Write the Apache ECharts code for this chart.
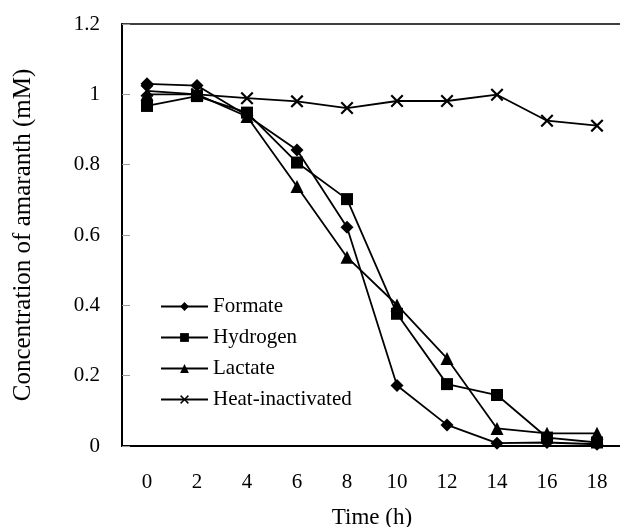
<!DOCTYPE html>
<html>
<head>
<meta charset="utf-8">
<script src="https://cdn.jsdelivr.net/npm/echarts@6/dist/echarts.min.js"></script>
<style>
  html, body { margin: 0; padding: 0; background: #fff; }
</style>
</head>
<body>
<div id="chart" style="width:620px;height:527px;"></div>
<script>
// data
var hours = ['0', '2', '4', '6', '8', '10', '12', '14', '16', '18'];
var formate = [1.03, 1.025, 0.94, 0.842, 0.622, 0.172, 0.06, 0.008, 0.01, 0.005];
var hydrogen = [0.967, 0.995, 0.948, 0.806, 0.702, 0.376, 0.176, 0.145, 0.024, 0.01];
var lactate = [1.0, 1.0, 0.937, 0.738, 0.537, 0.401, 0.249, 0.05, 0.036, 0.036];
var heatInactivated = [1.01, 1.0, 0.989, 0.98, 0.961, 0.981, 0.981, 0.999, 0.925, 0.911];

var FONT = "'Liberation Serif', 'Times New Roman', serif";
var crossPath = 'path://M0,1.4L1.4,0L6,4.6L10.6,0L12,1.4L7.4,6L12,10.6L10.6,12L6,7.4L1.4,12L0,10.6L4.6,6Z';

function makeSeries(name, data, symbol, size) {
  return {
    name: name,
    type: 'line',
    data: data,
    symbol: symbol,
    symbolSize: size,
    showAllSymbol: true,
    lineStyle: { color: '#000', width: 1.8 },
    itemStyle: { color: '#000', borderColor: '#000', borderWidth: 0 },
    emphasis: { disabled: true },
    animation: false
  };
}

var myChart = echarts.init(document.getElementById('chart'));
myChart.setOption({
  backgroundColor: '#fff',
  textStyle: { fontFamily: FONT },
  grid: {
    left: 122, top: 24, width: 500, height: 422,
    outerBoundsMode: 'none',
    containLabel: false,
    show: true, borderColor: '#000', borderWidth: 1.5
  },
  legend: {
    orient: 'vertical',
    left: 155, top: 291,
    itemWidth: 47, itemHeight: 11, itemGap: 10,
    textStyle: { fontFamily: FONT, fontSize: 21, color: '#000' },
    data: ['Formate', 'Hydrogen', 'Lactate', 'Heat-inactivated']
  },
  xAxis: {
    type: 'category',
    data: hours,
    boundaryGap: true,
    name: 'Time (h)',
    nameLocation: 'middle',
    nameGap: 60,
    nameTextStyle: { fontFamily: FONT, fontSize: 23, color: '#000', verticalAlign: 'top' },
    axisLine: { lineStyle: { color: '#000', width: 2 } },
    axisTick: { inside: true, length: 8, lineStyle: { color: '#999' } },
    axisLabel: { margin: 26, fontFamily: FONT, fontSize: 21, color: '#000' },
    splitLine: { show: false }
  },
  yAxis: {
    type: 'value',
    min: 0, max: 1.2, interval: 0.2,
    name: 'Concentration of amaranth (mM)',
    nameLocation: 'middle',
    nameGap: 86,
    nameTextStyle: { fontFamily: FONT, fontSize: 25, color: '#000' },
    axisLine: { show: true, lineStyle: { color: '#000', width: 2 } },
    axisTick: { show: true, inside: true, length: 8, lineStyle: { color: '#999' } },
    axisLabel: { margin: 22, fontFamily: FONT, fontSize: 21, color: '#000' },
    splitLine: { show: false }
  },
  series: [
    makeSeries('Formate', formate, 'diamond', 13),
    makeSeries('Hydrogen', hydrogen, 'rect', 12),
    makeSeries('Lactate', lactate, 'triangle', 13),
    makeSeries('Heat-inactivated', heatInactivated, crossPath, 13)
  ]
});
</script>
</body>
</html>
